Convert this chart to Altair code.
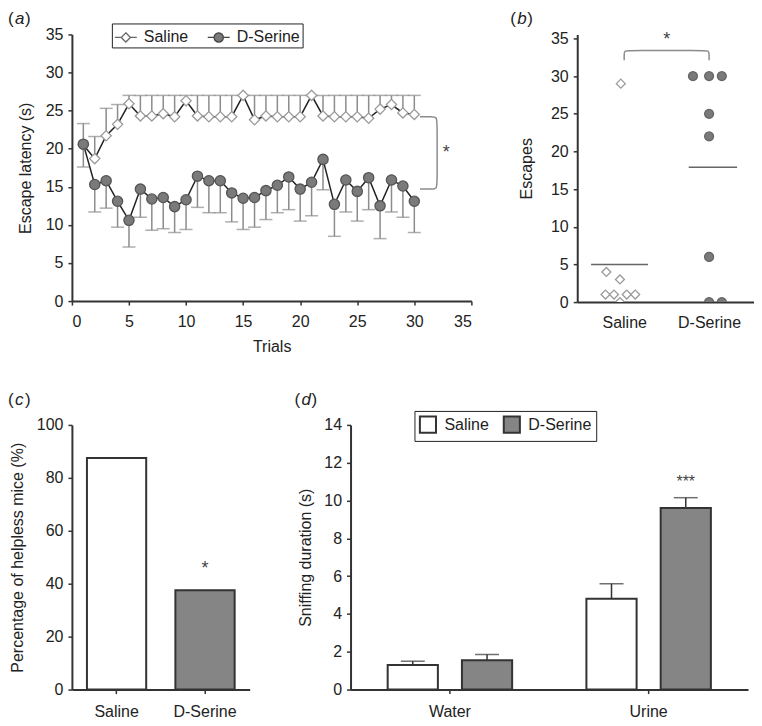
import altair as alt
import pandas as pd

FONT = "Liberation Sans"
AX = "#333333"
EB = "#8c8c8c"
DARK_FILL = "#858585"

# ---------------- data: panel (a) ----------------
trials = list(range(1, 31))
saline_mean = [20.5, 18.7, 21.7, 23.2, 25.9, 24.3, 24.3, 24.6, 24.2, 26.3,
               24.3, 24.2, 24.2, 24.2, 27.0, 23.8, 24.3, 24.2, 24.2, 24.2,
               27.0, 24.3, 24.2, 24.2, 24.2, 24.0, 25.2, 25.8, 24.7, 24.5]
saline_upper = [23.3, 21.6, 25.3, 25.8, 27.0, 27.0, 27.0, 27.0, 27.0, 27.0,
                27.0, 27.0, 27.0, 27.0, 27.0, 27.0, 27.0, 27.0, 27.0, 27.0,
                27.0, 27.0, 27.0, 27.0, 27.0, 27.0, 27.0, 27.0, 27.0, 27.0]
dser_mean = [20.6, 15.3, 15.8, 13.1, 10.6, 14.7, 13.4, 13.6, 12.4, 13.3,
             16.4, 15.8, 15.8, 14.2, 13.5, 13.6, 14.5, 15.2, 16.3, 14.7,
             15.6, 18.6, 12.7, 15.9, 14.4, 16.2, 12.5, 15.9, 15.1, 13.1]
dser_lower = [17.6, 11.7, 12.2, 9.7, 7.1, 11.0, 9.3, 9.5, 9.0, 9.4,
              12.3, 11.6, 11.6, 10.4, 9.4, 9.7, 10.7, 11.6, 12.0, 10.5,
              11.2, 14.6, 8.5, 11.7, 10.5, 12.0, 8.2, 11.7, 11.0, 9.0]
groups = ["Saline", "D-Serine"]

# ---------------- data: panel (b) ----------------
saline_escapes = [29, 4, 3, 1, 1, 1, 1, 0]
saline_jitter = [-0.04, -0.21, -0.05, -0.22, -0.12, 0.03, 0.13, -0.05]
dser_escapes = [30, 30, 30, 25, 22, 6, 0, 0]
dser_jitter = [-0.19, 0.0, 0.15, 0.0, 0.0, 0.0, 0.0, 0.15]
escape_means = [5.0, 17.9]

# ---------------- data: panel (c) ----------------
helpless_pct = [87.5, 37.5]

# ---------------- data: panel (d) ----------------
stimuli = ["Water", "Urine"]
sniff_saline = [1.3, 4.8]
sniff_saline_err = [1.5, 5.6]
sniff_dser = [1.55, 9.6]
sniff_dser_err = [1.85, 10.15]


def panel_label(letter, dx, dy):
    d = pd.DataFrame({"t": ["("]})
    base = alt.Chart(d)
    p1 = base.mark_text(align="left", baseline="top", font=FONT, fontSize=17, color="#222").encode(
        x=alt.value(dx), y=alt.value(dy), text=alt.value("("))
    p2 = base.mark_text(align="left", baseline="top", font=FONT, fontSize=17, fontStyle="italic", color="#222").encode(
        x=alt.value(dx + 7), y=alt.value(dy), text=alt.value(letter))
    p3 = base.mark_text(align="left", baseline="top", font=FONT, fontSize=17, color="#222").encode(
        x=alt.value(dx + 17), y=alt.value(dy), text=alt.value(")"))
    return [p1, p2, p3]


# ================= panel (a) =================
df_a = pd.DataFrame({
    "x": trials + trials,
    "y": saline_mean + dser_mean,
    "err": saline_upper + dser_lower,
    "series": ["Saline"] * 30 + ["D-Serine"] * 30,
})
ax_ay = alt.Axis(values=list(range(0, 36, 5)), title="Escape latency (s)", titlePadding=12)
sc_ay = alt.Scale(domain=[0, 35], nice=False)
xa = alt.X("x:Q", scale=alt.Scale(domain=[0, 35], nice=False),
           axis=alt.Axis(values=list(range(0, 36, 5)), title="Trials", labelPadding=8, titlePadding=9))
ya = alt.Y("y:Q", scale=sc_ay, axis=ax_ay)
ya_err = alt.Y("err:Q", scale=sc_ay, axis=ax_ay)

base_a = alt.Chart(df_a)
a_rule = base_a.mark_rule(color=EB, strokeWidth=1.5).encode(x=xa, y=ya, y2="err:Q")
a_cap = base_a.mark_tick(color=EB, thickness=1.5, size=13, orient="horizontal").encode(x=xa, y=ya_err)
a_line = base_a.mark_line(color="#222", strokeWidth=1.5).encode(x=xa, y=ya, detail="series:N")
a_pts = base_a.mark_point(filled=True, opacity=1, strokeWidth=1.3, size=105).encode(
    x=xa, y=ya,
    shape=alt.Shape("series:N", scale=alt.Scale(domain=groups, range=["diamond", "circle"]), legend=None),
    fill=alt.Fill("series:N", scale=alt.Scale(domain=groups, range=["white", "#7a7a7a"]), legend=None),
    stroke=alt.Stroke("series:N", scale=alt.Scale(domain=groups, range=["#9a9a9a", "#555555"]), legend=None),
)

# legend-only layer (its points sit outside the clipped plot area): marker with a line through it
LEG_DIAMOND = "M-1,0H-0.42M0.42,0H1M0,-0.42L0.42,0L0,0.42L-0.42,0Z"
LEG_CIRCLE = "M-1,0H-0.42M0.42,0H1M-0.42,0A0.42,0.42,0,1,0,0.42,0A0.42,0.42,0,1,0,-0.42,0Z"
leg_a = alt.Legend(title=None, orient="none", legendX=40, legendY=-11, direction="horizontal",
                   strokeColor="#222", fillColor="white", padding=2, labelFont=FONT,
                   labelFontSize=16, labelColor="#222", symbolSize=484, symbolStrokeWidth=1.3,
                   columnPadding=16, labelOffset=6)
a_leg = alt.Chart(pd.DataFrame({"x": [-10, -10], "y": [-10, -10], "series": groups})).mark_point(
    filled=True, opacity=1, strokeWidth=1.3, clip=True).encode(
    x=xa, y=ya,
    shape=alt.Shape("series:N", scale=alt.Scale(domain=groups, range=[LEG_DIAMOND, LEG_CIRCLE]), legend=leg_a),
    fill=alt.Fill("series:N", scale=alt.Scale(domain=groups, range=["white", "#7a7a7a"]), legend=leg_a),
    stroke=alt.Stroke("series:N", scale=alt.Scale(domain=groups, range=["#666666", "#444444"]), legend=leg_a),
)

brace_a = pd.DataFrame({
    "x": [30.5, 31.5, 32.0, 32.0, 32.0, 32.0, 31.5, 30.5],
    "y": [24.2, 24.2, 24.2, 23.0, 15.9, 14.7, 14.7, 14.7],
    "i": list(range(8)),
})
a_brace = alt.Chart(brace_a).mark_line(color=EB, strokeWidth=1.5, interpolate="basis").encode(
    x=xa, y=ya, order="i:O")
a_star = alt.Chart(pd.DataFrame({"x": [32.8], "y": [19.4], "t": ["*"]})).mark_text(
    font=FONT, fontSize=18, color="#444", baseline="middle").encode(x=xa, y=ya, text="t:N")

panel_a = alt.layer(a_rule, a_cap, a_line, a_pts, a_leg, a_brace, a_star,
                    *panel_label("a", -64, -23)).resolve_scale(
    shape="independent", fill="independent", stroke="independent").properties(width=400, height=267)

# ================= panel (b) =================
df_b = pd.DataFrame({
    "x": [0 + j for j in saline_jitter] + [1 + j for j in dser_jitter],
    "y": saline_escapes + dser_escapes,
    "series": ["Saline"] * len(saline_escapes) + ["D-Serine"] * len(dser_escapes),
})
xb = alt.X("x:Q", scale=alt.Scale(domain=[-0.553, 1.529], nice=False, zero=False),
           axis=alt.Axis(values=[0, 1], title=None, ticks=False, labelPadding=12,
                         labelExpr="datum.value == 0 ? 'Saline' : 'D-Serine'"))
yb = alt.Y("y:Q", scale=alt.Scale(domain=[0, 35.53], nice=False),
           axis=alt.Axis(values=list(range(0, 36, 5)), title="Escapes", titlePadding=16))
b_pts = alt.Chart(df_b).mark_point(filled=True, opacity=1, strokeWidth=1.3, size=80, clip=True).encode(
    x=xb, y=yb,
    shape=alt.Shape("series:N", scale=alt.Scale(domain=groups, range=["diamond", "circle"]), legend=None),
    fill=alt.Fill("series:N", scale=alt.Scale(domain=groups, range=["white", "#7a7a7a"]), legend=None),
    stroke=alt.Stroke("series:N", scale=alt.Scale(domain=groups, range=["#9a9a9a", "#666666"]), legend=None),
)
mean_b = pd.DataFrame({"x": [-0.39, 0.76], "x2": [0.28, 1.33], "y": escape_means})
b_mean = alt.Chart(mean_b).mark_rule(color="#666", strokeWidth=1.5).encode(x=xb, x2="x2:Q", y=yb)
brace_b = pd.DataFrame({
    "x": [0.0, 0.0, 0.0, 0.08, 0.92, 1.0, 1.0, 1.0],
    "y": [32.1, 32.9, 33.4, 33.4, 33.4, 33.4, 32.9, 32.1],
    "i": list(range(8)),
})
b_brace = alt.Chart(brace_b).mark_line(color=EB, strokeWidth=1.5, interpolate="basis").encode(
    x=xb, y=yb, order="i:O")
b_star = alt.Chart(pd.DataFrame({"x": [0.5], "y": [34.8], "t": ["*"]})).mark_text(
    font=FONT, fontSize=18, color="#444", baseline="middle").encode(x=xb, y=yb, text="t:N")
panel_b = alt.layer(b_mean, b_brace, b_pts, b_star,
                    *panel_label("b", -67, -23)).properties(width=177, height=268)

# ================= panel (c) =================
df_c = pd.DataFrame({"g": groups, "y": helpless_pct})
xc = alt.X("g:N", sort=groups, scale=alt.Scale(paddingInner=0.33, paddingOuter=0.17),
           axis=alt.Axis(title=None, labelAngle=0, labelPadding=10))
yc = alt.Y("y:Q", scale=alt.Scale(domain=[0, 100], nice=False),
           axis=alt.Axis(values=list(range(0, 101, 20)), title="Percentage of helpless mice (%)", titlePadding=11))
c_bar = alt.Chart(df_c).mark_bar(stroke="#333", strokeWidth=2).encode(
    x=xc, y=yc,
    fill=alt.Fill("g:N", scale=alt.Scale(domain=groups, range=["white", DARK_FILL]), legend=None))
c_star = alt.Chart(pd.DataFrame({"g": ["D-Serine"], "y": [45.5], "t": ["*"]})).mark_text(
    font=FONT, fontSize=18, color="#444", baseline="middle").encode(x=xc, y=yc, text="t:N")
panel_c = alt.layer(c_bar, c_star, *panel_label("c", -64, -33)).properties(width=178, height=265)

# ================= panel (d) =================
df_d = pd.DataFrame({
    "stim": stimuli + stimuli,
    "series": ["Saline"] * 2 + ["D-Serine"] * 2,
    "y": sniff_saline + sniff_dser,
    "err": sniff_saline_err + sniff_dser_err,
})
xd = alt.X("stim:N", sort=stimuli, scale=alt.Scale(paddingInner=0, paddingOuter=0),
           axis=alt.Axis(title=None, labelAngle=0, labelPadding=10))
xod = alt.XOffset("series:N", sort=groups, scale=alt.Scale(domain=groups, paddingInner=0.324, paddingOuter=0.5))
sc_dy = alt.Scale(domain=[0, 14], nice=False)
ax_dy = alt.Axis(values=list(range(0, 15, 2)), title="Sniffing duration (s)", titlePadding=10)
yd = alt.Y("y:Q", scale=sc_dy, axis=ax_dy)
yd_err = alt.Y("err:Q", scale=sc_dy, axis=ax_dy)
leg_d = alt.Legend(title=None, orient="none", legendX=64, legendY=-14, direction="horizontal",
                   strokeColor="#222", fillColor="white", padding=4, labelFont=FONT,
                   labelFontSize=16, labelColor="#222", symbolType="square", symbolSize=260,
                   symbolStrokeColor="#333", symbolStrokeWidth=2, columnPadding=10, labelOffset=7)
base_d = alt.Chart(df_d)
d_rule = base_d.mark_rule(color="#333", strokeWidth=1.5).encode(x=xd, xOffset=xod, y=yd, y2="err:Q")
d_cap = base_d.mark_tick(color="#333", thickness=1.5, size=24, orient="horizontal").encode(
    x=xd, xOffset=xod, y=yd_err)
d_bar = base_d.mark_bar(stroke="#333", strokeWidth=2).encode(
    x=xd, xOffset=xod, y=yd,
    fill=alt.Fill("series:N", scale=alt.Scale(domain=groups, range=["white", DARK_FILL]), legend=leg_d))
d_star = alt.Chart(pd.DataFrame({"stim": ["Urine"], "series": ["D-Serine"], "y": [11.0], "t": ["***"]})).mark_text(
    font=FONT, fontSize=16, color="#444", baseline="middle").encode(x=xd, xOffset=xod, y=yd, text="t:N")
panel_d = alt.layer(d_rule, d_cap, d_bar, d_star, *panel_label("d", -56, -33)).properties(width=398, height=265)

indep = dict(x="independent", y="independent", fill="independent",
             stroke="independent", shape="independent", xOffset="independent")

row1 = alt.concat(panel_a, panel_b, columns=2, spacing=38, align="none").resolve_scale(**indep).resolve_legend(
    fill="independent", stroke="independent", shape="independent")
row2 = alt.concat(panel_c, panel_d, columns=2, spacing=45, align="none").resolve_scale(**indep).resolve_legend(
    fill="independent", stroke="independent", shape="independent")
chart = alt.vconcat(row1, row2, spacing=37).properties(
    padding={"left": 0, "top": 2, "right": 0, "bottom": 0}
).resolve_scale(**indep).resolve_legend(
    fill="independent", stroke="independent", shape="independent"
).configure_view(stroke=None).configure_axis(
    domainColor=AX, domainWidth=2, tickColor=AX, tickWidth=1.5, tickSize=4,
    labelFont=FONT, labelFontSize=16, labelColor="#222", titleFont=FONT, titleFontSize=16,
    titleFontWeight="normal", titleColor="#222", grid=False, labelPadding=5
)

chart.save("out.html", embed_options={"renderer": "svg", "actions": False})
